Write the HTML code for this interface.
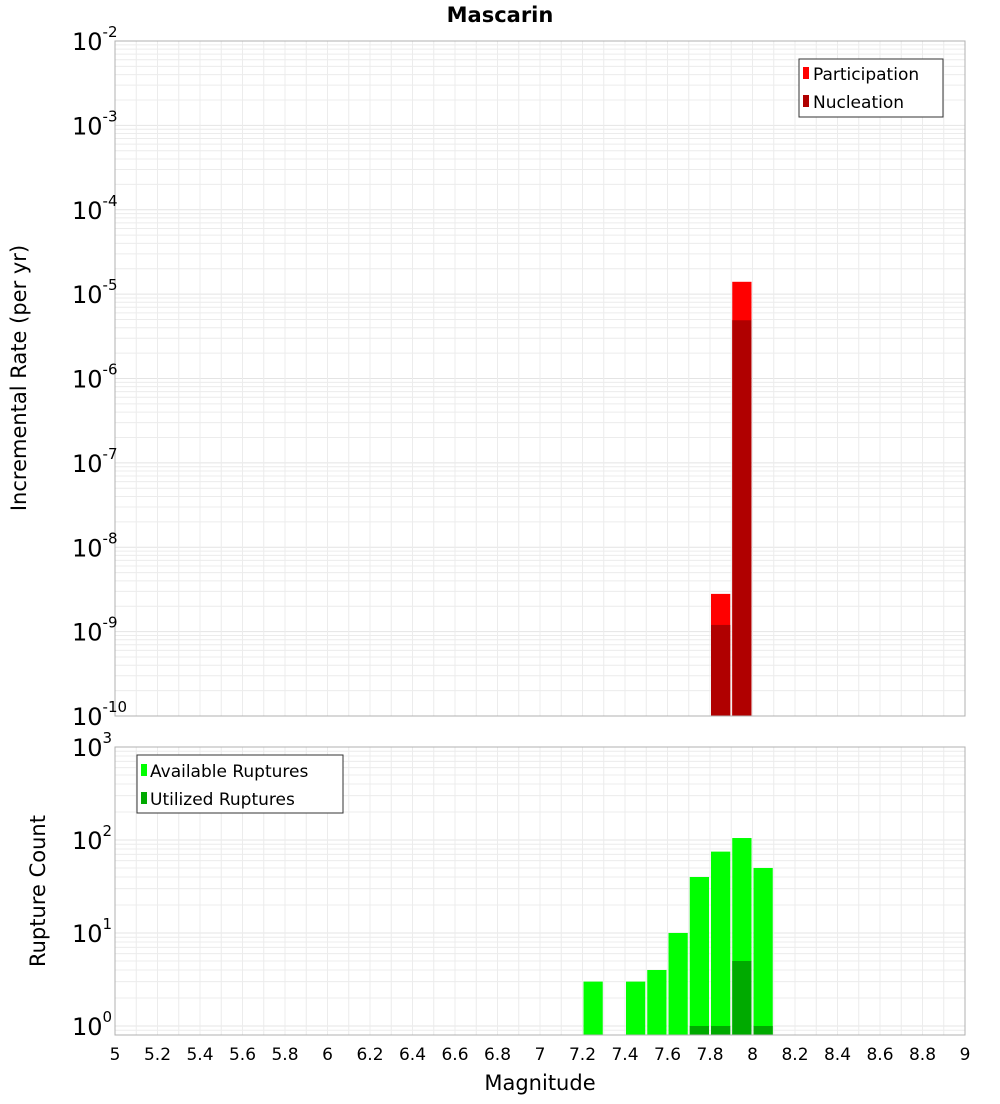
<!DOCTYPE html>
<html><head><meta charset="utf-8"><style>
body{margin:0;background:#fff;font-family:"DejaVu Sans","Liberation Sans",sans-serif;}
svg text{font-family:"DejaVu Sans","Liberation Sans",sans-serif;}
</style></head><body>
<svg id="chart" width="1000" height="1100" xmlns="http://www.w3.org/2000/svg">
<text x="500" y="22" text-anchor="middle" font-size="21" font-weight="bold">Mascarin</text>
<g id="top"></g><g id="bot"></g>
</svg>
<script>
const binCenters = [7.85, 7.95];
const participation = [2.8e-9, 1.4e-5];
const nucleation = [1.2e-9, 4.9e-6];
const countBins = [7.25, 7.45, 7.55, 7.65, 7.75, 7.85, 7.95, 8.05];
const available = [3, 3, 4, 10, 40, 75, 105, 50];
const utilizedBins = [7.75, 7.85, 7.95, 8.05];
const utilized = [1, 1, 5, 1];
const xTicks = [5,5.2,5.4,5.6,5.8,6,6.2,6.4,6.6,6.8,7,7.2,7.4,7.6,7.8,8,8.2,8.4,8.6,8.8,9];
const topExp = [-10,-9,-8,-7,-6,-5,-4,-3,-2];
const botExp = [0,1,2,3];

const NS="http://www.w3.org/2000/svg";
const L=115,R=965;
const xs=v=>L+(v-5)/4*(R-L);
function mk(p,tag,a){const e=document.createElementNS(NS,tag);for(const k in a)e.setAttribute(k,a[k]);p.appendChild(e);return e;}
function panel(g,top,bot,lmin,lmax){
  const ys=v=>bot-(Math.log10(v)-lmin)/(lmax-lmin)*(bot-top);
  mk(g,'rect',{x:L,y:top,width:R-L,height:bot-top,fill:'#fff'});
  for(let e=Math.floor(lmin);e<lmax;e++)for(let m=1;m<10;m++){const v=m*Math.pow(10,e);const y=ys(v);if(y<top-0.1||y>bot+0.1)continue;
    const l=mk(g,'line',{x1:L,x2:R,y1:y,y2:y,stroke:m==1?'#e4e4e4':'#ececec','stroke-width':1});}
  for(let v=5;v<=9.001;v+=0.1){const x=xs(v);const l=mk(g,'line',{x1:x,x2:x,y1:top,y2:bot,stroke:'#ececec','stroke-width':1});}
  return ys;
}
function bar(g,c,v,ys,bot,fill,name){const x=xs(c-0.05)+1,w=xs(c+0.05)-xs(c-0.05)-2;const y=ys(v);
  const r=mk(g,'rect',{x:x,y:y,width:w,height:bot-y,fill:fill});}
function ylab(g,e,y,name){const t=mk(g,'text',{x:104,y:y+9,'text-anchor':'end','font-size':24});
  
  t.innerHTML='10<tspan dy="-13" font-size="15">'+e+'</tspan>';t.setAttribute('x',72);t.setAttribute('text-anchor','start');}
// top panel
const gt=document.getElementById('top');
const T0=41,T1=716;
const yt=panel(gt,T0,T1,-10,-2);
binCenters.forEach((c,i)=>bar(gt,c,participation[i],yt,T1,'#ff0000','participation-bar'));
binCenters.forEach((c,i)=>bar(gt,c,nucleation[i],yt,T1,'#b00000','nucleation-bar'));
mk(gt,'rect',{x:L,y:T0,width:R-L,height:T1-T0,fill:'none',stroke:'#b0b0b0'});
topExp.forEach(e=>ylab(gt,e,yt(Math.pow(10,e)),'y-tick-label'));
// bottom panel
const gb=document.getElementById('bot');
const B0=747,B1=1035;
const yb=panel(gb,B0,B1,-0.097,3);
countBins.forEach((c,i)=>bar(gb,c,available[i],yb,B1,'#00ff00','available-bar'));
utilizedBins.forEach((c,i)=>bar(gb,c,utilized[i],yb,B1,'#00aa00','utilized-bar'));
mk(gb,'rect',{x:L,y:B0,width:R-L,height:B1-B0,fill:'none',stroke:'#b0b0b0'});
botExp.forEach(e=>ylab(gb,e,yb(Math.pow(10,e)),'y-tick-label-count'));
xTicks.forEach(v=>{const t=mk(gb,'text',{x:xs(v),y:1060,'text-anchor':'middle','font-size':17});t.textContent=String(v);
  });
</script>
<g></g>
<svg style="position:absolute;left:0;top:0" width="1000" height="1100" xmlns="http://www.w3.org/2000/svg">
<text x="540" y="1090" text-anchor="middle" font-size="21">Magnitude</text>
<text transform="translate(26,378) rotate(-90)" text-anchor="middle" font-size="21">Incremental Rate (per yr)</text>
<text transform="translate(45,891) rotate(-90)" text-anchor="middle" font-size="21">Rupture Count</text>
<g>
<rect x="799" y="59" width="144" height="58" fill="#fff" stroke="#333"/>
<rect x="803" y="67" width="6" height="12" fill="#ff0000"/>
<text x="813" y="80" font-size="17">Participation</text>
<rect x="803" y="95" width="6" height="12" fill="#b00000"/>
<text x="813" y="108" font-size="17">Nucleation</text>
</g>
<g>
<rect x="137" y="755" width="206" height="58" fill="#fff" stroke="#333"/>
<rect x="141" y="764" width="6" height="12" fill="#00ff00"/>
<text x="150" y="777" font-size="17">Available Ruptures</text>
<rect x="141" y="792" width="6" height="12" fill="#00aa00"/>
<text x="150" y="805" font-size="17">Utilized Ruptures</text>
</g>
</svg>
</body></html>
